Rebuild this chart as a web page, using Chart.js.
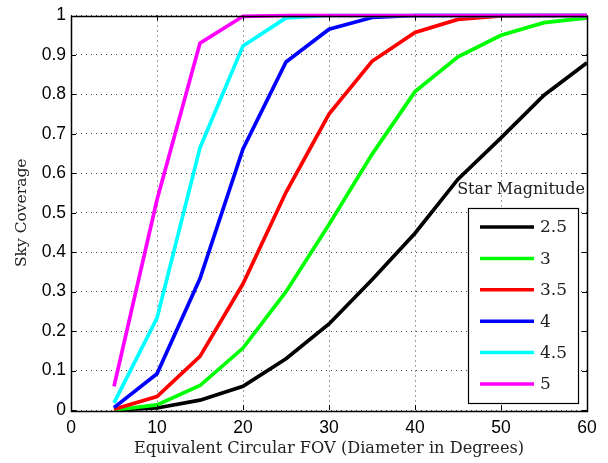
<!DOCTYPE html>
<html>
<head>
<meta charset="utf-8">
<script src="https://cdn.jsdelivr.net/npm/chart.js@4/dist/chart.umd.min.js"></script>
<style>
  html, body { margin: 0; padding: 0; background: #ffffff; }
  #wrap { width: 608px; height: 463px; }
</style>
</head>
<body>
<div id="wrap"><canvas id="c" width="608" height="463"></canvas></div>
<script>
// Field of view diameters (degrees)
const fov = [5, 10, 15, 20, 25, 30, 35, 40, 45, 50, 55, 60];

// Sky coverage fraction per limiting star magnitude
const mag25 = [0.000, 0.005, 0.025, 0.060, 0.130, 0.218, 0.330, 0.448, 0.585, 0.690, 0.798, 0.880];
const mag30 = [0.000, 0.013, 0.062, 0.157, 0.300, 0.470, 0.648, 0.807, 0.895, 0.950, 0.982, 0.994];
const mag35 = [0.002, 0.034, 0.136, 0.320, 0.552, 0.750, 0.884, 0.957, 0.990, 0.999, 1.000, 1.000];
const mag40 = [0.006, 0.092, 0.333, 0.662, 0.882, 0.965, 0.995, 1.000, 1.000, 1.000, 1.000, 1.000];
const mag45 = [0.018, 0.233, 0.665, 0.923, 0.994, 1.000, 1.000, 1.000, 1.000, 1.000, 1.000, 1.000];
const mag50 = [0.060, 0.533, 0.930, 0.998, 1.000, 1.000, 1.000, 1.000, 1.000, 1.000, 1.000, 1.000];

const magnitudeLabels = ['2.5', '3', '3.5', '4', '4.5', '5'];
const seriesValues = [mag25, mag30, mag35, mag40, mag45, mag50];
const seriesColors = ['#000000', '#00ff00', '#ff0000', '#0000ff', '#00ffff', '#ff00ff'];

const xTickValues = [0, 10, 20, 30, 40, 50, 60];
const yTickValues = [0, 0.1, 0.2, 0.3, 0.4, 0.5, 0.6, 0.7, 0.8, 0.9, 1];

const legendTitle = 'Star Magnitude';
const xTitle = 'Equivalent Circular FOV (Diameter in Degrees)';
const yTitle = 'Sky Coverage';

const SANS = '"Liberation Sans", Arial, sans-serif';
const SERIF = '"DejaVu Serif", "Liberation Serif", serif';

const datasets = seriesValues.map((vals, i) => ({
  label: magnitudeLabels[i],
  data: fov.map((x, k) => ({ x: x, y: vals[k] })),
  borderColor: seriesColors[i],
  backgroundColor: seriesColors[i],
  borderWidth: 3.7,
  pointRadius: 0,
  tension: 0,
  fill: false,
  clip: 4,
  order: seriesValues.length - i
}));

// Box frame, inward tick marks on all four sides, and the boxed legend
const framePlugin = {
  id: 'frame',
  afterDatasetsDraw(chart) {
    const { ctx, chartArea: a, scales } = chart;
    const xs = scales.x, ys = scales.y;
    ctx.save();
    ctx.strokeStyle = '#000';
    ctx.lineWidth = 1;
    const tl = 5;
    ctx.beginPath();
    xTickValues.forEach(v => {
      const px = Math.round(xs.getPixelForValue(v)) + 0.5;
      ctx.moveTo(px, a.bottom); ctx.lineTo(px, a.bottom - tl);
      ctx.moveTo(px, a.top); ctx.lineTo(px, a.top + tl);
    });
    yTickValues.forEach(v => {
      const py = Math.round(ys.getPixelForValue(v)) + 0.5;
      ctx.moveTo(a.left, py); ctx.lineTo(a.left + tl, py);
      ctx.moveTo(a.right, py); ctx.lineTo(a.right - tl, py);
    });
    ctx.stroke();
    ctx.lineWidth = 1.5;
    ctx.strokeRect(Math.round(a.left) + 0.5, Math.round(a.top) + 0.5,
                   Math.round(a.right - a.left), Math.round(a.bottom - a.top));

    // legend
    const bx = 468, by = 208, bw = 110, bh = 195;
    ctx.fillStyle = '#fff';
    ctx.fillRect(bx, by, bw, bh);
    ctx.lineWidth = 1.2;
    ctx.strokeStyle = '#000';
    ctx.strokeRect(bx + 0.5, by + 0.5, bw, bh);
    ctx.font = '16px ' + SERIF;
    ctx.fillStyle = '#222';
    ctx.textAlign = 'center';
    ctx.textBaseline = 'middle';
    ctx.fillText(legendTitle, 521, 190);
    ctx.textAlign = 'left';
    ctx.font = '17px ' + SERIF;
    chart.data.datasets.forEach((ds, i) => {
      const y = 227 + i * 31.4;
      ctx.strokeStyle = ds.borderColor;
      ctx.lineWidth = 3.5;
      ctx.beginPath();
      ctx.moveTo(480, y); ctx.lineTo(534, y);
      ctx.stroke();
      ctx.fillStyle = '#222';
      ctx.fillText(ds.label, 540, y + 1);
    });
    ctx.restore();
  }
};

new Chart(document.getElementById('c'), {
  type: 'line',
  data: { datasets: datasets },
  options: {
    responsive: false,
    devicePixelRatio: 1,
    animation: false,
    layout: { padding: { left: 0, right: 21, top: 10, bottom: 0 } },
    plugins: { legend: { display: false }, tooltip: { enabled: false } },
    scales: {
      x: {
        type: 'linear',
        min: 0, max: 60,
        afterBuildTicks: s => { s.ticks = xTickValues.map(v => ({ value: v })); },
        afterFit: s => { s.height = 53; },
        grid: { color: '#444', lineWidth: 1, drawTicks: false },
        border: { display: false, dash: [1, 4] },
        ticks: { color: '#000', padding: 8, maxRotation: 0, font: { family: SANS, size: 17.5 },
                 callback: v => String(v) },
        title: { display: true, text: xTitle, color: '#222', padding: { top: 0, bottom: 4 },
                 font: { family: SERIF, size: 16.2 } }
      },
      y: {
        type: 'linear',
        min: 0, max: 1,
        afterBuildTicks: s => { s.ticks = yTickValues.map(v => ({ value: v })); },
        afterFit: s => { s.width = 71; },
        grid: { color: '#444', lineWidth: 1, drawTicks: false },
        border: { display: false, dash: [1, 4] },
        ticks: { color: '#000', padding: 5, font: { family: SANS, size: 17.5 },
                 callback: v => String(Math.round(v * 10) / 10) },
        title: { display: true, text: yTitle, color: '#222', padding: { top: 13, bottom: 0 },
                 font: { family: SERIF, size: 15.5 } }
      }
    }
  },
  plugins: [framePlugin]
});
</script>
</body>
</html>
